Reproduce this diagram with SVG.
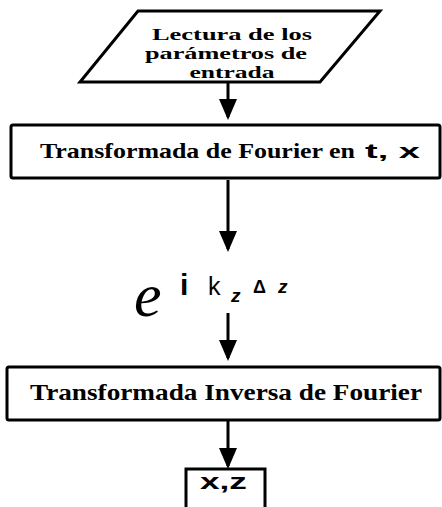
<svg xmlns="http://www.w3.org/2000/svg" width="442" height="507" viewBox="0 0 442 507">
<style>
.shape{fill:#fff;stroke:#000;stroke-width:3}
.serif{font-family:"Liberation Serif","Times New Roman",serif;font-weight:bold;fill:#000}
.sans{font-family:"Liberation Sans",Arial,sans-serif;fill:#000}
.conn{stroke:#000;stroke-width:3;fill:none}
</style>
<defs>
<marker id="ah" markerWidth="7" markerHeight="6" refX="6" refY="3" orient="auto" markerUnits="strokeWidth">
<path d="M0,0 L7,3 L0,6 Z" fill="#000"/>
</marker>
</defs>
<rect width="442" height="507" fill="#fff"/>
<g id="connectors">
<line class="conn" x1="228" y1="83" x2="228" y2="117" marker-end="url(#ah)"/>
<line class="conn" x1="228" y1="180" x2="228" y2="249" marker-end="url(#ah)"/>
<line class="conn" x1="228" y1="313" x2="228" y2="358" marker-end="url(#ah)"/>
<line class="conn" x1="228" y1="421" x2="228" y2="466" marker-end="url(#ah)"/>
</g>
<g id="input">
<polygon class="shape" points="138,11 380,11 320,82 80,82"/>
<text class="serif" font-size="17" x="232" y="40" text-anchor="middle" textLength="160" lengthAdjust="spacingAndGlyphs">Lectura de los</text>
<text class="serif" font-size="17" x="226" y="59" text-anchor="middle" textLength="162" lengthAdjust="spacingAndGlyphs">parámetros de</text>
<text class="serif" font-size="17" x="232" y="78" text-anchor="middle" textLength="85" lengthAdjust="spacingAndGlyphs">entrada</text>
</g>
<g id="fourier">
<rect class="shape" x="11" y="125" width="429" height="53" rx="2"/>
<text class="serif" font-size="21" x="40" y="158" textLength="315" lengthAdjust="spacingAndGlyphs">Transformada de Fourier en</text>
<text class="sans" font-size="20" font-weight="bold" x="365" y="158" textLength="55" lengthAdjust="spacingAndGlyphs">t, x</text>
</g>
<g id="propagator">
<text font-family="Liberation Serif, Times New Roman, serif" font-size="62" font-style="italic" x="134" y="316">e</text>
<text class="sans" font-size="30" font-weight="bold" x="180" y="295">i</text>
<text class="sans" font-size="25" x="208" y="295">k</text>
<text class="sans" font-size="19" font-style="italic" font-weight="bold" x="231" y="302">z</text>
<text class="sans" font-size="18" font-weight="bold" x="253" y="293">Δ</text>
<text class="sans" font-size="19" font-style="italic" font-weight="bold" x="278" y="293">z</text>
</g>
<g id="inverse">
<rect class="shape" x="7" y="367" width="433" height="53" rx="2"/>
<text class="serif" font-size="23" x="30" y="400" textLength="392" lengthAdjust="spacingAndGlyphs">Transformada Inversa de Fourier</text>
</g>
<g id="output">
<rect class="shape" x="186" y="469" width="79" height="40"/>
<text class="sans" font-size="22" font-weight="bold" x="200" y="489" textLength="47" lengthAdjust="spacingAndGlyphs">x,z</text>
</g>
</svg>
